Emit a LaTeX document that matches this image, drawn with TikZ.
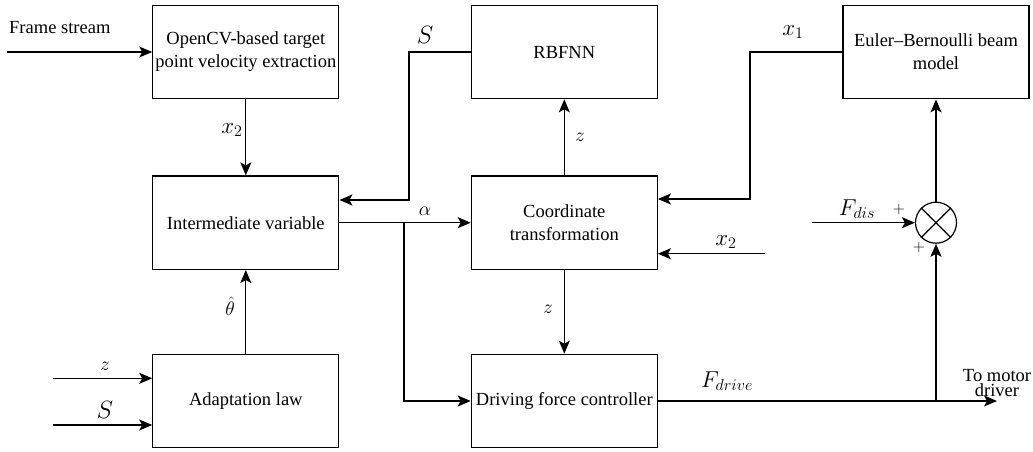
\RequirePackage{fix-cm}
\documentclass[tikz,border=0pt]{standalone}
\usepackage{fontspec}
\setmainfont{Liberation Serif}
\usetikzlibrary{arrows.meta,calc}
\begin{document}
\begin{tikzpicture}[x=1pt,y=-1pt,
  every node/.style={font=\fontsize{18.5}{23}\selectfont},
  blk/.style={draw, line width=1.2pt, minimum width=186pt, minimum height=93.5pt, inner sep=0pt, align=center},
  conn/.style={line width=1.2pt},
  arr/.style={conn, -{Stealth[length=13pt,width=11pt,inset=3pt]}},
  ml/.style={font=\fontsize{23}{27}\selectfont, inner sep=0pt},
  sl/.style={font=\fontsize{19.5}{23}\selectfont, inner sep=0pt},
  pl/.style={font=\fontsize{16}{20}\selectfont, inner sep=0pt},
  bigl/.style={font=\fontsize{25}{29}\selectfont, inner sep=0pt}]
\useasboundingbox (0,0) rectangle (1033,452);
% blocks
\node[blk] (ocv) at (245.8,52) {OpenCV-based target\\point velocity extraction};
\node[blk] (rbf) at (564.3,52) {RBFNN};
\node[blk] (eb) at (936,52) {Euler--Bernoulli beam\\model};
\node[blk] (iv) at (245.8,222.7) {Intermediate variable};
\node[blk] (ct) at (564.3,222.7) {Coordinate\\transformation};
\node[blk] (al) at (245.8,401) {Adaptation law};
\node[blk] (dfc) at (564.3,401) {Driving force controller};
\node[draw, circle, line width=1.2pt, minimum size=41pt, inner sep=0pt] (sum) at (936,222.7) {};
\draw[conn] (sum.north west) -- (sum.south east) (sum.north east) -- (sum.south west);
% free ends
\coordinate (fs) at (7,52);
\coordinate (sbend) at (409,200);
\coordinate (xbend) at (750,199);
\coordinate (br) at (404,222.7);
\coordinate (x2in) at (765,253.7);
\coordinate (fd) at (812,222.7);
\coordinate (tm) at (997,401);
\coordinate (zin) at (53,378.3);
\coordinate (sin) at (53,425);
% connectors
\draw[arr] (fs) -- (ocv.west);
\draw[arr] (ocv.south) -- (iv.north);
\draw[arr] (rbf.west) -| (sbend) -- (sbend -| iv.east);
\draw[arr] (eb.west) -| (xbend) -- (xbend -| ct.east);
\draw[arr] (iv.east) -- (ct.west);
\draw[arr] (br) |- (dfc.west);
\draw[arr] (ct.north) -- (rbf.south);
\draw[arr] (ct.south) -- (dfc.north);
\draw[arr] (x2in) -- (x2in -| ct.east);
\draw[arr] (fd) -- (sum.west);
\draw[arr] (sum.north) -- (eb.south);
\draw[arr] (dfc.east) -- (tm);
\draw[arr] (dfc.east -| sum.south) -- (sum.south);
\draw[arr] (al.north) -- (iv.south);
\draw[arr] (zin) -- (zin -| al.west);
\draw[arr] (sin) -- (sin -| al.west);
% labels
\node[anchor=base west, inner sep=0pt] (fsl) at (9,34) {Frame stream};
\node[bigl] (lS1) at (425,35) {$S$};
\node[ml] (lx1) at (793,32) {$x_1$};
\node[ml] (lx2a) at (232,130) {$x_2$};
\node[sl] (lz1) at (580,137) {$z$};
\node[sl] (lal) at (425,211) {$\alpha$};
\node[ml] (lx2b) at (726,242) {$x_2$};
\node[ml] (lfd) at (857,209) {$F_{dis}$};
\node[pl] (lp1) at (899,209) {$+$};
\node[pl] (lp2) at (919,247) {$+$};
\node[sl] (lth) at (230,306) {$\hat{\theta}$};
\node[sl] (lz2) at (105,366) {$z$};
\node[bigl] (lS2) at (105,410) {$S$};
\node[sl] (lz3) at (548,309) {$z$};
\node[ml] (lfdr) at (727,381) {$F_{drive}$};
\node[align=center, inner sep=0pt, font=\fontsize{18.5}{15.5}\selectfont] (ltm) at (997,383) {To motor\\driver};
\end{tikzpicture}
\end{document}
